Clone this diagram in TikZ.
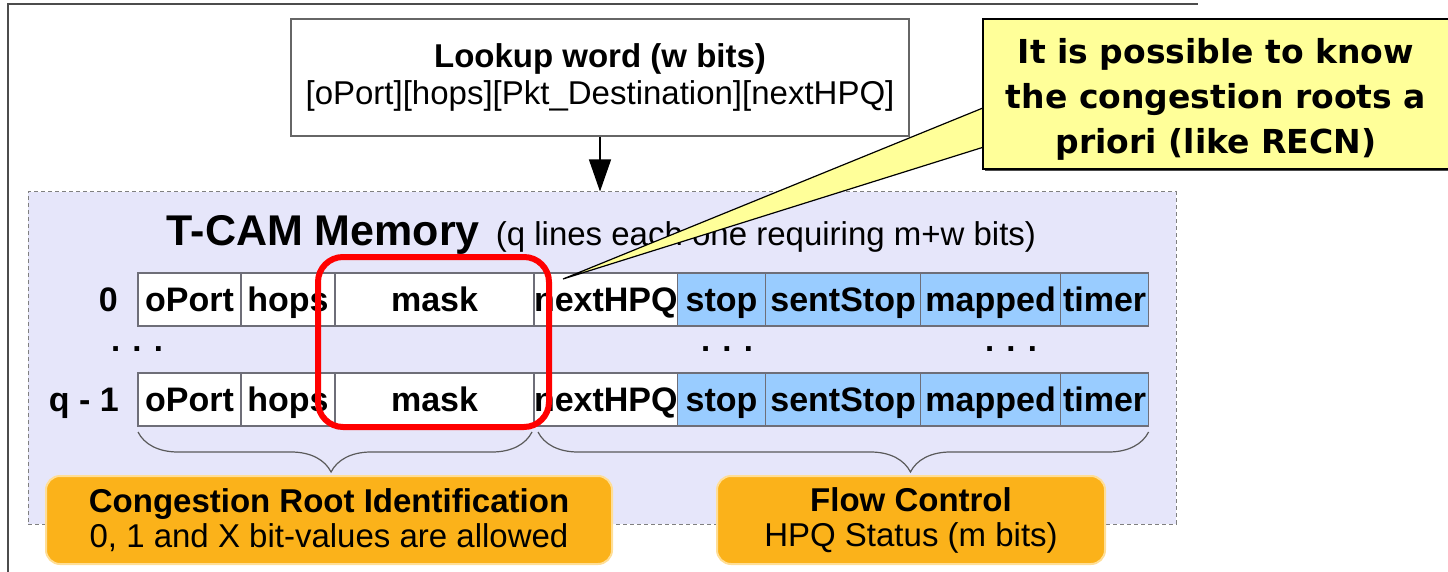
\documentclass[tikz,border=0pt]{standalone}
\usepackage{fontspec}
\setmainfont{Liberation Sans}
\newfontfamily\callfont{DejaVu Sans}
\usetikzlibrary{positioning,calc,shadows,arrows.meta,decorations.pathreplacing}
\definecolor{tcamfill}{RGB}{230,230,250}
\definecolor{hpqblue}{RGB}{153,204,255}
\definecolor{cellline}{RGB}{110,110,120}
\definecolor{boxorange}{RGB}{251,178,26}
\definecolor{boxglow}{RGB}{255,222,150}
\definecolor{noteyellow}{RGB}{255,255,153}
\definecolor{bracegray}{RGB}{90,90,90}
\begin{document}
\begin{tikzpicture}[x=1pt,y=-1pt,
  cell/.style={draw=cellline, line width=1.2pt, minimum height=53pt, inner sep=0pt, outer sep=0pt,
    text height=28pt, text depth=5pt, font=\fontsize{34}{36}\selectfont\bfseries},
  wcell/.style={cell, fill=white},
  bcell/.style={cell, fill=hpqblue},
  rowlab/.style={font=\fontsize{34}{36}\selectfont\bfseries, inner sep=0pt, text height=28pt, text depth=5pt},
  dots/.style={font=\fontsize{33}{36}\selectfont\bfseries, anchor=base, inner sep=0pt},
  orangebox/.style={fill=boxorange, draw=boxglow, line width=2pt, rounded corners=14pt, align=center,
    minimum height=88pt, font=\fontsize{33}{35}\selectfont},
  brc/.style={draw=bracegray, line width=1.2pt, decorate},
  hilite/.style={draw=red, line width=6pt, rounded corners=25pt},
  notebox/.style={fill=noteyellow, draw=black, line width=1.5pt, minimum width=466pt, minimum height=150pt}]
  \def\rh{53pt} % row height
  \useasboundingbox (0,0) rectangle (1448,572);
  %%% slide frame
  \draw[gray!60!black, line width=2pt] (8,572) -- (8,4) -- (1198,4);
  %%% T-CAM area
  \node[fill=tcamfill, draw=gray, line width=1pt, dash pattern=on 4pt off 3pt,
    minimum width=1148pt, minimum height=332pt] (tcam) at (602,358) {};
  \node[anchor=base, inner sep=0pt] (title) at (601.5,245)
    {{\fontsize{43}{46}\selectfont\bfseries T-CAM Memory}\hspace{16pt}{\fontsize{33}{36}\selectfont(q lines each one requiring m+w bits)}};
  %%% lookup word
  \node[draw=gray!80!black, line width=1.2pt, fill=white, minimum width=618pt, minimum height=117pt,
    align=center, font=\fontsize{33}{37}\selectfont] (look) at (600,77.5)
    {\textbf{Lookup word (w bits)}\\{}[oPort][hops][Pkt\_Destination][nextHPQ]};
  \draw[line width=1.2pt, -{Triangle[length=32pt,width=22pt]}] (look.south) -- (look.south |- tcam.north);
  %%% line 0
  \node[wcell, minimum width=103pt] (o0) at (189.5,299.5) {oPort};
  \node[wcell, minimum width=94pt, right=0pt of o0] (h0) {hops};
  \node[wcell, minimum width=199pt, right=0pt of h0] (m0) {mask};
  \node[wcell, minimum width=143pt, right=0pt of m0] (n0) {nextHPQ};
  \node[bcell, minimum width=88pt, right=0pt of n0] (s0) {stop};
  \node[bcell, minimum width=155pt, right=0pt of s0] (ss0) {sentStop};
  \node[bcell, minimum width=140pt, right=0pt of ss0] (mp0) {mapped};
  \node[bcell, minimum width=88pt, right=0pt of mp0] (t0) {timer};
  %%% line q-1
  \node[wcell, minimum width=103pt] (o1) at (189.5,399.5) {oPort};
  \node[wcell, minimum width=94pt, right=0pt of o1] (h1) {hops};
  \node[wcell, minimum width=199pt, right=0pt of h1] (m1) {mask};
  \node[wcell, minimum width=143pt, right=0pt of m1] (n1) {nextHPQ};
  \node[bcell, minimum width=88pt, right=0pt of n1] (s1) {stop};
  \node[bcell, minimum width=155pt, right=0pt of s1] (ss1) {sentStop};
  \node[bcell, minimum width=140pt, right=0pt of ss1] (mp1) {mapped};
  \node[bcell, minimum width=88pt, right=0pt of mp1] (t1) {timer};
  %%% labels
  \node[rowlab, left=20pt of o0] (l0) {0};
  \node[rowlab, left=19pt of o1] (l1) {q - 1};
  \node[dots] (d1) at (137,351) {. . .};
  \node[dots] (d2) at (727,351) {. . .};
  \node[dots] (d3) at (1011,351) {. . .};
  %%% braces
  \draw[brc, decoration={brace, mirror, amplitude=40pt, aspect=0.49}]
    ([yshift=-6pt]o1.south west) -- ([xshift=-2pt,yshift=-6pt]m1.south east);
  \draw[brc, decoration={brace, mirror, amplitude=40pt, aspect=0.61}]
    ([xshift=4pt,yshift=-6pt]n1.south west) -- ([yshift=-6pt]t1.south east);
  %%% boxes below
  \node[orangebox, minimum width=566pt] (cri) at (329,520)
    {\textbf{Congestion Root Identification}\\0, 1 and X bit-values are allowed};
  \node[orangebox, minimum width=388pt] (fc) at (911,520)
    {\textbf{Flow Control}\\HPQ Status (m bits)};
  %%% mask highlight
  \node[hilite, minimum width=231pt, minimum height=170pt] (hl) at (433.5,342) {};
  %%% callout
  \coordinate (tip) at ($(n0.north west)+(29,6)$);
  \path node[notebox, draw=none, fill=none] (frame) at (1216,94) {};
  \fill[noteyellow, draw=black, line width=1.2pt, line join=miter]
    ($(frame.west)+(8,11)$) -- (tip) -- ($(frame.west)+(8,51)$) -- cycle;
  \node[notebox, drop shadow={shadow xshift=2pt, shadow yshift=-2pt, fill=black!70, opacity=1}]
    (note) at (frame) {};
  \node[align=center, inner sep=0pt, font=\callfont\fontsize{33}{45}\selectfont\bfseries] (notetxt)
    at ($(note.center)+(0,5)$) {It is possible to know\\the congestion roots a\\priori (like RECN)};
\end{tikzpicture}
\end{document}
